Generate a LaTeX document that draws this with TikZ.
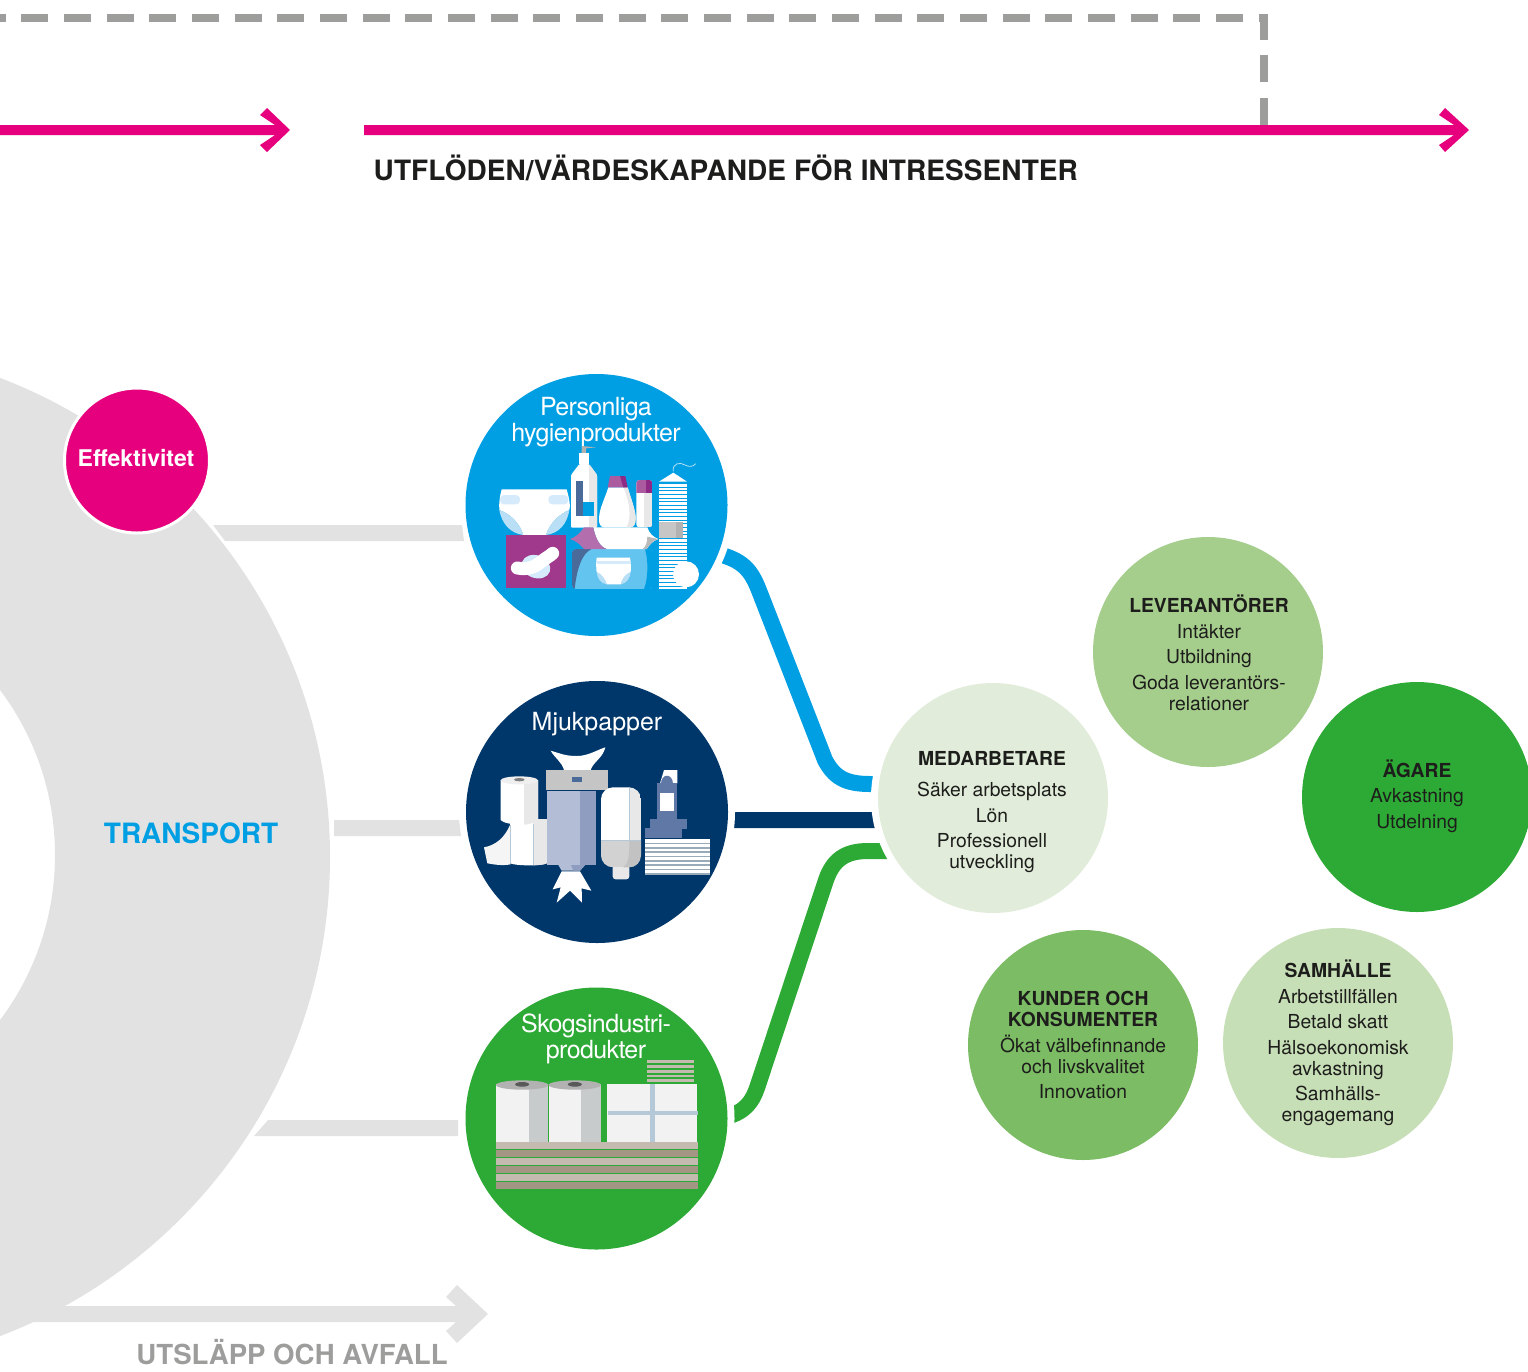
\documentclass[tikz,border=0pt]{standalone}
\usepackage{fontspec}
\setmainfont{TeX Gyre Heros}
\usetikzlibrary{backgrounds}
\definecolor{pinkc}{HTML}{E6007E}
\definecolor{greyc}{HTML}{E2E2E2}
\definecolor{dashc}{HTML}{9D9D9C}
\definecolor{bluec}{HTML}{009FE3}
\definecolor{navyc}{HTML}{00376B}
\definecolor{greenc}{HTML}{2DA935}
\definecolor{medc}{HTML}{E1EDDA}
\definecolor{levc}{HTML}{A5CE8D}
\definecolor{kunc}{HTML}{7BBC64}
\definecolor{samc}{HTML}{C7DFB7}
\definecolor{inkc}{HTML}{1D1D1B}
\definecolor{purpc}{HTML}{A0388C}
\definecolor{purpl}{HTML}{B36FAD}
\definecolor{purpm}{HTML}{AB5AA0}
\definecolor{purpd}{HTML}{8E2A85}
\definecolor{skyl}{HTML}{D5EBFB}
\definecolor{skym}{HTML}{B8DFF5}
\definecolor{skyp}{HTML}{64C4F0}
\definecolor{slate}{HTML}{4A6A9A}
\definecolor{slatel}{HTML}{6078A5}
\definecolor{shd}{HTML}{E8E8E8}
\definecolor{bluel}{HTML}{B3BDD6}
\definecolor{bluem}{HTML}{8F9DC0}
\definecolor{tanl}{HTML}{C5BAB0}
\definecolor{tand}{HTML}{A49684}
\definecolor{rollg}{HTML}{C8CBCB}
\definecolor{crossc}{HTML}{B4C8D8}
\tikzset{
  disc/.style={circle,inner sep=0pt,minimum size=#1},
  ctitle/.style={text=white,align=center,font=\fontsize{25}{26}\selectfont\addfontfeatures{LetterSpace=-2.5}},
  cbody/.style={text=inkc,align=center,font=\fontsize{19.3}{21}\selectfont},
  link/.style={line width=#1,line join=round},
  icon/.style={x=0.33333pt,y=-0.33333pt}
}
\newcommand{\hd}[1]{\textbf{#1}}
\begin{document}
\begin{tikzpicture}[x=1pt,y=-1pt]
\useasboundingbox (0,0) rectangle (1528,1371);

% grey disc (ring)
\begin{scope}
\clip (0,0) rectangle (1528,1371);
\fill[greyc,even odd rule] (-182.6,857) circle (512.6pt) (-220,855) circle (275pt);
\end{scope}
% grey bars
\fill[greyc] (213,525) -- (462,525) -- (464,541) -- (225,541) -- cycle;
\fill[greyc] (334,820) -- (459,820) -- (461,836) -- (334,836) -- cycle;
\fill[greyc] (268,1120) -- (458,1120) -- (458,1136) -- (254,1136) -- cycle;
% grey arrow
\fill[greyc] (0,1306) -- (456,1306) -- (446,1297) -- (457,1285) -- (488,1314) -- (457,1343) -- (446,1331) -- (456,1322) -- (0,1322) -- cycle;

% dashed feedback line
\coordinate (dashstart) at (1264,125);
\coordinate (dashcorner) at (1264,18);
\coordinate (dashend) at (0,18);
\draw[dashc,line width=8.5pt,dash pattern=on 26.9pt off 15.77pt] (dashstart) -- (dashcorner) -- (dashend);

% pink arrows
\fill[pinkc] (0,125) -- (275,125) -- (260,115) -- (267,108) -- (290,130) -- (267,152) -- (260,145) -- (275,135) -- (0,135) -- cycle;
\fill[pinkc] (364,125) -- (1454,125) -- (1439,115) -- (1445,108) -- (1469,130) -- (1445,152) -- (1439,145) -- (1454,135) -- (364,135) -- cycle;

% discs
\node[disc=145pt,fill=pinkc,draw=white,line width=3pt] (eff) at (137,460.5) {};
\node[disc=262pt,fill=bluec] (blue) at (596.5,505) {};
\node[disc=262pt,fill=navyc] (navy) at (597,812) {};
\node[disc=262pt,fill=greenc] (green) at (596.5,1118.5) {};
\node[disc=230pt,fill=medc] (med) at (993,798) {};
\node[disc=230pt,fill=levc] (lev) at (1208,652) {};
\node[disc=230pt,fill=greenc] (agare) at (1417,797) {};
\node[disc=230pt,fill=kunc] (kun) at (1083,1045) {};
\node[disc=230pt,fill=samc] (sam) at (1338,1043) {};

% connectors, under white halos
\begin{scope}[on background layer]
\draw[bluec,link=16pt] (blue.center) -- (722,555) .. controls (745,562) and (752,572) .. (760,593) -- (825,760) .. controls (834,777) and (845,784) .. (870,784) -- (med.center);
\draw[navyc,link=16pt] (navy.center) -- (700,820) -- (880,820) -- (med.center);
\draw[greenc,link=16pt] (green.center) -- (726,1117) .. controls (745,1112) and (752,1102) .. (757,1088) -- (826,880) .. controls (833,860) and (845,851) .. (868,851) -- (890,851) -- (med.center);
\fill[white] (blue) circle (138pt) (navy) circle (138pt) (green) circle (138pt) (med) circle (122pt);
\end{scope}

% texts
\node[text=white,font=\fontsize{23}{25}\selectfont\bfseries] (efft) at (136,458) {Effektivitet};
\node[text=bluec,font=\fontsize{28}{30}\selectfont\bfseries] (transp) at (191,833) {TRANSPORT};
\node[text=inkc,anchor=base west,inner sep=0pt,font=\fontsize{28}{30}\selectfont\bfseries\addfontfeatures{LetterSpace=0.3}] (utfl) at (373.5,180) {UTFLÖDEN/VÄRDESKAPANDE FÖR INTRESSENTER};
\node[text=dashc,anchor=base,inner sep=0pt,font=\fontsize{27.6}{30}\selectfont\bfseries] (utsl) at (292,1364) {UTSLÄPP OCH AVFALL};

\node[ctitle] (t1) at (596,422) {Personliga\\hygienprodukter};
\node[ctitle,font=\fontsize{25}{26}\selectfont] (t2) at (597,724) {Mjukpapper};
\node[ctitle] (t3) at (596,1039) {Skogsindustri-\\produkter};

\node[cbody] (b1) at (992,812.5) {\hd{MEDARBETARE}\\[10pt]Säker arbetsplats\\[4.5pt]Lön\\[4.5pt]Professionell\\utveckling};
\node[cbody] (b2) at (1209,653) {\hd{LEVERANTÖRER}\\[4.5pt]Intäkter\\[4.5pt]Utbildning\\[4.5pt]Goda leverantörs-\\relationer};
\node[cbody] (b3) at (1417,796) {\hd{ÄGARE}\\[4.5pt]Avkastning\\[4.5pt]Utdelning};
\node[cbody] (b4) at (1083,1045) {\hd{KUNDER OCH}\\\hd{KONSUMENTER}\\[4.5pt]Ökat välbefinnande\\och livskvalitet\\[4.5pt]Innovation};
\node[cbody] (b5) at (1338,1043) {\hd{SAMHÄLLE}\\[4.5pt]Arbetstillfällen\\[4.5pt]Betald skatt\\[4.5pt]Hälsoekonomisk\\avkastning\\[4.5pt]Samhälls-\\engagemang};

% ICON 1: hygiene products
\begin{scope}[shift={(460,370)},icon]
% diaper
\fill[white] (125,358) -- (320,358) .. controls (328,385) and (332,410) .. (328,420) .. controls (300,430) and (268,460) .. (258,495) -- (190,495) .. controls (180,460) and (150,430) .. (118,420) .. controls (116,400) and (120,375) .. cycle;
\fill[skym] (118,420) .. controls (150,430) and (180,460) .. (190,495) .. controls (150,490) and (125,460) .. cycle;
\fill[skym] (328,420) .. controls (300,430) and (268,460) .. (258,495) .. controls (298,490) and (322,460) .. cycle;
\fill[skyl,rounded corners=4pt] (120,375) rectangle (180,403);
\fill[skyl,rounded corners=4pt] (265,375) rectangle (325,403);
% pad on purple
\fill[purpc] (138,495) rectangle (318,653);
\fill[skyl,rotate around={-20:(228,590)}] (228,590) ellipse (44 and 34);
\draw[white,line width=13pt,line cap=round,line join=round] (172,594) .. controls (205,600) and (225,590) .. (240,578) .. controls (255,565) and (270,558) .. (278,550);
% pump bottle
\fill[dashc!80] (365,228) -- (408,232) -- (378,235) -- (378,250) -- (365,250) -- cycle;
\fill[white] (358,250) rectangle (387,282);
\fill[white,rounded corners=1pt] (333,473) -- (333,315) -- (358,282) -- (387,282) -- (411,315) -- (411,473) -- cycle;
\fill[shd,rounded corners=1pt] (387,282) -- (411,315) -- (411,473) -- (387,473) -- cycle;
\fill[slate] (348,333) rectangle (369,437);
\fill[bluec] (369,397) rectangle (402,437);
% flask
\fill[white] (445,352) -- (503,352) .. controls (512,385) and (527,420) .. (527,445) .. controls (527,462) and (522,472) .. (510,472) -- (432,472) .. controls (422,472) and (416,462) .. (417,445) .. controls (418,415) and (435,385) .. cycle;
\fill[shd] (503,352) .. controls (512,385) and (527,420) .. (527,445) .. controls (527,462) and (522,472) .. (510,472) -- (500,472) .. controls (515,440) and (510,400) .. (490,352) -- cycle;
\fill[purpm] (443,352) -- (450,318) -- (480,318) -- (503,352) -- cycle;
\fill[purpd] (480,318) -- (496,318) -- (503,352) -- (490,352) -- cycle;
% small bottle
\begin{scope}
\clip[rounded corners=3pt] (529,330) rectangle (577,472);
\fill[white] (529,330) rectangle (553,472);
\fill[shd] (553,330) rectangle (577,472);
\fill[purpm] (529,330) rectangle (558,368);
\fill[purpd] (558,330) rectangle (577,368);
\end{scope}
% package
\begin{scope}
\clip[rounded corners=4pt] (336,537) rectangle (578,657);
\fill[skyp] (336,537) rectangle (578,657);
\fill[bluec] (555,537) .. controls (565,570) and (565,625) .. (552,657) -- (578,657) -- (578,537) -- cycle;
\fill[slate] (336,537) -- (395,537) .. controls (365,550) and (350,600) .. (344,657) -- (336,657) -- cycle;
\end{scope}
\fill[white] (410,563) -- (510,563) .. controls (513,580) and (513,595) .. (512,606) .. controls (495,612) and (485,630) .. (482,643) -- (440,643) .. controls (437,630) and (425,612) .. (410,606) .. controls (408,590) and (408,578) .. cycle;
\fill[skyl] (410,572) rectangle (511,582);
\fill[skym] (410,606) .. controls (425,612) and (437,630) .. (440,643) .. controls (422,640) and (412,625) .. cycle;
\fill[skym] (512,606) .. controls (495,612) and (485,630) .. (482,643) .. controls (500,640) and (510,625) .. cycle;
% wrapped item
\fill[white] (400,472) -- (562,472) .. controls (568,490) and (578,500) .. (595,507) .. controls (578,512) and (568,525) .. (560,537) -- (440,537) .. controls (418,530) and (405,500) .. cycle;
\fill[shd!80!black] (562,500) .. controls (575,503) and (585,505) .. (595,507) .. controls (578,512) and (568,525) .. (560,537) -- (548,537) .. controls (558,530) and (562,515) .. cycle;
\fill[purpl] (330,507) .. controls (345,503) and (360,490) .. (372,472) -- (400,472) .. controls (405,500) and (418,530) .. (440,537) -- (372,537) .. controls (362,525) and (348,512) .. cycle;
% tampon box
\foreach \yy in {342,353,...,650} \fill[white] (597,\yy) rectangle (681,\yy+8);
\fill[white] (597,335) -- (640,308) -- (681,335) -- cycle;
\draw[white!70!bluec,line width=0.8pt] (640,304) .. controls (636,280) and (660,275) .. (675,285) .. controls (688,292) and (700,290) .. (707,281);
\fill[gray!45] (597,456) rectangle (668,503);
\fill[gray!60] (648,456) rectangle (668,503);
\fill[white] (678,613) circle (39);
\end{scope}

% ICON 2: tissue
\begin{scope}[shift={(460,680)},icon]
% tail and lower roll
\fill[white!96!black] (72,502) .. controls (110,495) and (135,470) .. (150,435) -- (152,553) .. controls (125,558) and (100,553) .. (82,550) -- cycle;
\fill[white] (150,420) rectangle (262,548);
\fill[white] (206,548) ellipse (56 and 8);
\fill[shd] (220,418) rectangle (262,548);
\fill[shd] (220,548) -- (262,548) .. controls (262,552) and (240,556) .. (220,556) -- cycle;
\draw[crossc,line width=0.5pt] (150,435) -- (150,550) (220,432) -- (220,555);
% upper roll
\fill[white] (122,300) -- (234,300) -- (234,418) .. controls (225,428) and (205,434) .. (192,434) .. controls (165,434) and (135,432) .. (122,420) -- cycle;
\fill[shd] (192,300) -- (234,300) -- (234,418) .. controls (225,428) and (205,434) .. (192,434) -- cycle;
\fill[shd!70!white] (178,301) ellipse (56 and 12);
\fill[gray] (178,299) ellipse (16 and 5);
% dispenser
\fill[white] (272,212) .. controls (300,220) and (315,228) .. (350,228) .. controls (385,228) and (410,210) .. (436,202) .. controls (428,235) and (400,245) .. (392,270) -- (312,270) .. controls (305,245) and (285,235) .. cycle;
\fill[shd!85!black] (258,270) rectangle (444,330);
\fill[slate] (336,291) rectangle (366,306);
\fill[bluel] (262,333) rectangle (360,555);
\fill[bluem] (360,333) rectangle (408,555);
\fill[bluel] (295,555) -- (375,555) -- (360,572) -- (305,572) -- cycle;
\fill[bluem] (333,555) -- (375,555) -- (360,572) -- (340,572) -- cycle;
\fill[white] (305,574) -- (278,628) -- (302,622) -- (290,668) -- (330,632) -- (366,668) -- (365,625) -- (394,632) -- (360,574) -- cycle;
% soap dispenser
\fill[shd,rounded corners=3pt] (458,550) rectangle (508,598);
\begin{scope}
\clip[rounded corners=12pt] (423,322) rectangle (543,562);
\fill[white] (423,322) rectangle (508,481);
\fill[shd] (508,322) rectangle (543,481);
\fill[gray!35] (423,481) rectangle (543,562);
\fill[gray!48] (508,481) -- (543,481) -- (543,562) -- (490,562) .. controls (505,550) and (508,530) .. cycle;
\draw[crossc,line width=0.6pt] (423,481) -- (543,481) (508,322) -- (508,481);
\end{scope}
% stack
\fill[white] (600,310) -- (612,270) -- (652,270) -- (652,310) -- cycle;
\fill[slatel] (590,310) rectangle (652,418);
\fill[slatel] (604,312) .. controls (604,280) and (640,280) .. (640,312) -- cycle;
\fill[white] (600,338) rectangle (643,393);
\fill[slatel] (570,418) rectangle (681,447);
\fill[slatel] (555,445) rectangle (666,475);
\fill[white] (555,477) rectangle (750,585);
\foreach \yy in {488,501,...,580} \fill[crossc!85!black] (555,\yy) rectangle (750,\yy+5);
\end{scope}

% ICON 3: forest products
\begin{scope}[shift={(460,985)},icon]
\foreach \xx/\sh in {108/208,266/364} {
  \fill[white!95!black] (\xx,298) rectangle (\xx+157,470);
  \fill[rollg] (\sh,298) rectangle (\xx+157,470);
  \fill[gray!60] (\xx+78.5,300) ellipse (78.5 and 14);
  \fill[black!65] (\xx+78.5,298) ellipse (21 and 7);
}
\fill[white!95!black] (441,297) rectangle (711,470);
\fill[crossc] (571,297) rectangle (584,470);
\fill[crossc] (443,378) rectangle (713,390);
\foreach \yy/\hh in {225/9,240/9,255/9,270/7,283/9} \fill[tanl] (561,\yy) rectangle (702,\yy+\hh);
\fill[tanl] (108,470) rectangle (714,492);
\fill[tand] (108,496) rectangle (714,516);
\fill[tanl] (108,519) rectangle (714,540);
\fill[tand] (108,544) rectangle (714,564);
\fill[tanl] (108,568) rectangle (714,588);
\fill[tand] (108,591) rectangle (714,611);
\end{scope}
\end{tikzpicture}
\end{document}
